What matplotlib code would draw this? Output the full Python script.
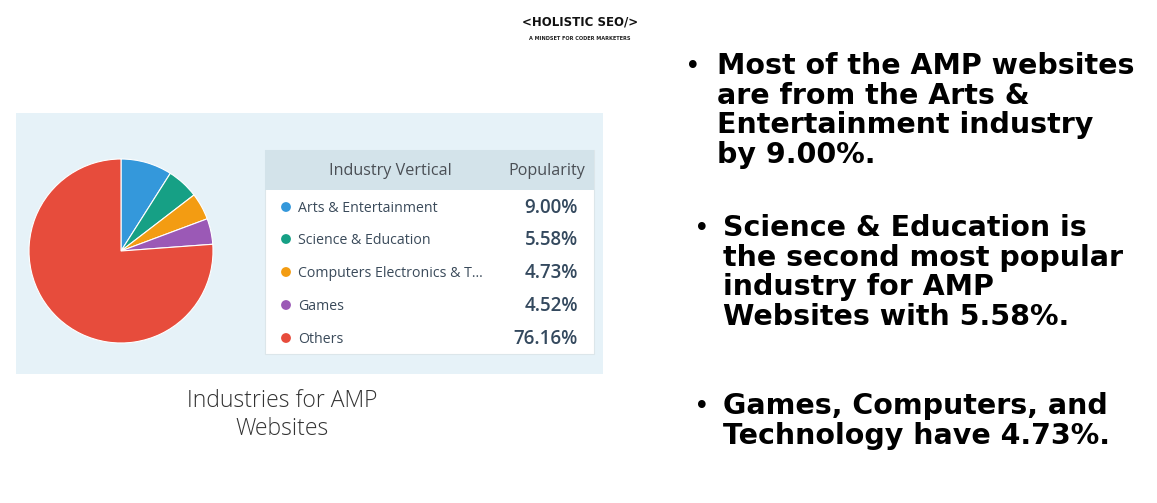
import matplotlib.pyplot as plt
from matplotlib.patches import Rectangle

# Data
industries = ["Arts & Entertainment", "Science & Education", "Computers Electronics & T...",
              "Games", "Others"]
shares = [9.00, 5.58, 4.73, 4.52, 76.16]
colors = ["#3498DB", "#16A085", "#F39C12", "#9B59B6", "#E74C3C"]
header = ["Industry Vertical", "Popularity"]
caption = "Industries for AMP\nWebsites"
bullets = [
    "Most of the AMP websites\nare from the Arts &\nEntertainment industry\nby 9.00%.",
    "Science & Education is\nthe second most popular\nindustry for AMP\nWebsites with 5.58%.",
    "Games, Computers, and\nTechnology have 4.73%.",
]

W, H = 1157, 503
fig = plt.figure(figsize=(W / 100, H / 100), dpi=100)
fig.patch.set_facecolor("white")

# pixel-coordinate canvas
ax = fig.add_axes([0, 0, 1, 1])
ax.set_xlim(0, W)
ax.set_ylim(H, 0)
ax.axis("off")

# logo
ax.text(580, 22, "<HOLISTIC SEO/>", ha="center", va="center", fontsize=8.5,
        fontweight="bold", family="DejaVu Sans", color="#111")
ax.text(580, 38, "A MINDSET FOR CODER MARKETERS", ha="center", va="center",
        fontsize=3.6, fontweight="bold", color="#222")

# light blue panel
ax.add_patch(Rectangle((16, 113), 587, 261, facecolor="#E6F2F8", edgecolor="none"))

# table
ax.add_patch(Rectangle((265, 150), 329, 204, facecolor="white", edgecolor="#DCE6EA", lw=0.8))
ax.add_patch(Rectangle((265, 150), 329, 40, facecolor="#D3E3EA", edgecolor="none"))
ax.text(390, 171, header[0], ha="center", va="center", fontsize=11.6, color="#4A4F55",
        family="Open Sans")
ax.text(547, 171, header[1], ha="center", va="center", fontsize=11.6, color="#4A4F55",
        family="Open Sans")
row_y = [207, 239, 272, 305, 338]
for name, val, c, y in zip(industries, shares, colors, row_y):
    ax.scatter([286], [y], s=50, color=c, edgecolors="none", zorder=3)
    ax.text(298, y + 1.5, name, ha="left", va="center", fontsize=10.2, color="#3A4A5A",
            family="Open Sans")
    ax.text(578, y + 1, f"{val:.2f}%", ha="right", va="center", fontsize=13.5,
            color="#34495E", family="Open Sans", fontweight="semibold")

# caption
ax.text(282, 415, caption, ha="center", va="center", fontsize=16.5, color="#333",
        family="Open Sans", fontweight="light", linespacing=1.2)

# bullets
bullet_pos = [(693, 717, 52), (702, 723, 214), (702, 723, 392)]
for (bx, tx, ty), txt in zip(bullet_pos, bullets):
    ax.text(bx, ty + 15, "\u2022", ha="center", va="center", fontsize=19, color="black")
    ax.text(tx, ty, txt, ha="left", va="top", fontsize=20.5, fontweight="heavy",
            family="DejaVu Sans", color="black", linespacing=1.07)

# pie
cx, cy, r = 121, 251, 92
pax = fig.add_axes([(cx - r) / W, (H - cy - r) / H, 2 * r / W, 2 * r / H])
pax.pie(shares, colors=colors, startangle=90, counterclock=False,
        wedgeprops=dict(edgecolor="white", linewidth=0.8))
pax.set_xlim(-1, 1)
pax.set_ylim(-1, 1)
pax.set_aspect("equal")
pax.axis("off")

fig.savefig("out.png", dpi=100, facecolor="white")
